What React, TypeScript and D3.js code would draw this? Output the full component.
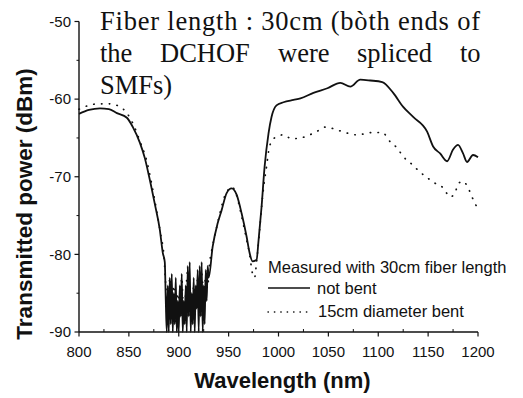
import * as d3 from "d3";

// ── Data ─────────────────────────────────────────────────
const notBentNm = [
  800, 810, 821, 830, 838, 848, 854, 861, 866, 870, 876, 881, 884,
  886, 887, 888, 889, 890, 891, 892, 893, 894, 895, 896, 897, 898, 899, 900,
  901, 902, 903, 904, 905, 906, 907, 908, 909, 910, 911, 912, 913, 914, 915,
  916, 917, 918, 919, 920, 921, 922, 923, 924, 925, 926, 927, 928, 929, 930,
  934, 939, 943, 948, 953, 958, 963, 968, 971, 974, 978, 980, 983, 986, 990,
  993, 998, 1005, 1015, 1022, 1035, 1049, 1062, 1072, 1082, 1092, 1104, 1115,
  1125, 1135, 1149, 1155, 1162, 1169, 1175, 1180, 1185, 1189, 1195, 1200,
];
const notBentDbm = [
  -61.9, -61.4, -61.2, -61.3, -61.8, -62.4, -63.6, -65.6, -67.6, -69.8, -73.5, -76.8, -79.8,
  -81, -86, -90, -84, -90, -83, -89, -82.5, -90, -85, -89, -83, -90, -86, -90,
  -84, -88, -82.5, -90, -86, -89, -84, -90, -81.5, -88, -81, -90, -85, -89, -83,
  -90, -84, -87, -82, -90, -81.5, -88, -81, -90, -84, -89, -82, -86, -81.5, -83,
  -79, -76, -74.3, -72.1, -71.5, -72.3, -74.7, -77.7, -79.8, -80.9, -80.7, -78.2, -73.9, -68.8, -64.4,
  -62.3, -60.8, -60.4, -60.1, -59.9, -59.2, -58.6, -57.9, -58.4, -57.5, -57.6, -57.8, -59.2,
  -61.0, -62.3, -64.2, -66.1, -67.0, -68.0, -66.5, -65.9, -67.0, -68.1, -67.2, -67.5,
];

const bentNm = [
  800, 810, 820, 830, 840, 848, 855, 861, 868, 873, 878, 882, 885,
  887, 889, 891, 893, 895, 897, 899, 901, 903, 905, 907, 909, 911, 913, 915,
  917, 919, 921, 923, 925, 927, 929, 931,
  933, 938, 942, 946, 950, 953, 957, 962, 967, 971, 974, 976, 978, 981, 984,
  988, 991, 996, 1005, 1013, 1022, 1038, 1047, 1062, 1078, 1095, 1104, 1112,
  1119, 1125, 1132, 1142, 1152, 1159, 1165, 1172, 1177, 1180, 1185, 1190, 1194, 1200,
];
const bentDbm = [
  -61.3, -60.8, -60.6, -60.6, -60.9, -61.8, -63.4, -65.4, -68.0, -71.0, -74.5, -77.5, -80,
  -84, -88, -83, -86, -84, -89, -85, -87, -83, -88, -85, -82, -86, -88, -84,
  -87, -83, -86, -82.5, -85, -83, -84, -81,
  -79.5, -76.5, -74.3, -72.5, -71.6, -71.3, -72, -74.5, -77.5, -80, -82.5, -83, -81, -77, -72.6,
  -68.7, -66.1, -65.0, -64.6, -65.1, -65.0, -64.2, -63.6, -64.1, -64.6, -64.3, -64.3, -65.5,
  -66.3, -67.4, -68.2, -69.4, -70.4, -71.0, -71.4, -72.6, -72.1, -70.9, -70.6, -71.4, -72.6, -74.2,
];

const xTicks = [800, 850, 900, 950, 1000, 1050, 1100, 1150, 1200];
const yTicks = [-90, -80, -70, -60, -50];

const noteLine1 = "Fiber length : 30cm (bòth ends of";
const noteLine2 = ["the", "DCHOF", "were", "spliced", "to"];
const noteLine3 = "SMFs)";

// ── Layout ────────────────────────────────────────────────
const W = 523;
const H = 398;
const X0 = 79;
const X1 = 478;
const Y0 = 332;
const Y1 = 21.5;
const SANS = "'Liberation Sans', Arial, sans-serif";
const SERIF = "'Liberation Serif', 'Times New Roman', serif";
const INK = "#111";

const x = d3.scaleLinear().domain([800, 1200]).range([X0, X1]);
const y = d3.scaleLinear().domain([-90, -50]).range([Y0, Y1]);

const line = d3
  .line<[number, number]>()
  .x(d => x(d[0]))
  .y(d => y(d[1]))
  .curve(d3.curveMonotoneX);

const notBent = notBentNm.map((n, i) => [n, notBentDbm[i]] as [number, number]);
const bent = bentNm.map((n, i) => [n, bentDbm[i]] as [number, number]);

const minorX = d3.range(825, 1200, 50);
const minorY = d3.range(-85, -50, 10);

// word x positions on the justified second line
const line2X = [100, 160, 278, 357, 460];

export default function App() {
  return (
    <svg
      width={W}
      height={H}
      viewBox={`0 0 ${W} ${H}`}
      style={{ position: "absolute", left: 0, top: 0, background: "#fff" }}
    >
      {/* ── Curves ── */}
      <path d={line(bent) ?? ""} fill="none" stroke={INK}
        strokeWidth={1.7} strokeDasharray="0.4 7.4" strokeLinecap="round" />
      <path d={line(notBent) ?? ""} fill="none" stroke={INK}
        strokeWidth={1.8} strokeLinejoin="round" />

      {/* ── Axes ── */}
      <line x1={X0} x2={X0} y1={Y1} y2={Y0} stroke={INK} strokeWidth={1.4} />
      <line x1={X0} x2={X1} y1={Y0} y2={Y0} stroke={INK} strokeWidth={1.6} />

      {xTicks.map(t => (
        <g key={t}>
          <line x1={x(t)} x2={x(t)} y1={Y0} y2={Y0 + 4.5} stroke={INK} strokeWidth={1.2} />
          <text x={x(t)} y={357} textAnchor="middle" fontSize={15}
            fontFamily={SANS} fill={INK}>{t}</text>
        </g>
      ))}
      {minorX.map(t => (
        <line key={t} x1={x(t)} x2={x(t)} y1={Y0} y2={Y0 - 3} stroke={INK} strokeWidth={1} />
      ))}

      {yTicks.map(t => (
        <g key={t}>
          <line x1={X0 - 4.5} x2={X0} y1={y(t)} y2={y(t)} stroke={INK} strokeWidth={1.2} />
          <text x={71} y={y(t) + 5.3} textAnchor="end" fontSize={15}
            fontFamily={SANS} fill={INK}>{t}</text>
        </g>
      ))}
      {minorY.map(t => (
        <line key={t} x1={X0 - 2.5} x2={X0} y1={y(t)} y2={y(t)} stroke={INK} strokeWidth={1} />
      ))}

      {/* ── Axis titles ── */}
      <text x={(X0 + X1) / 2 + 4} y={388} textAnchor="middle" fontSize={22}
        fontWeight={700} fontFamily={SANS} fill={INK}>Wavelength (nm)</text>
      <text transform="translate(32, 204) rotate(-90)" textAnchor="middle"
        fontSize={22.5} fontWeight={700} fontFamily={SANS} fill={INK}>
        Transmitted power (dBm)
      </text>

      {/* ── Note (justified serif text) ── */}
      <text x={100} y={30} fontSize={26.5} fontFamily={SERIF} fill={INK}
        textLength={380} lengthAdjust="spacing">{noteLine1}</text>
      {noteLine2.map((w, i) => (
        <text key={w} x={line2X[i]} y={62} fontSize={26.5} fontFamily={SERIF}
          fill={INK}>{w}</text>
      ))}
      <text x={100} y={94} fontSize={26.5} fontFamily={SERIF} fill={INK}>{noteLine3}</text>

      {/* ── Legend ── */}
      <text x={268} y={273} fontSize={16.5} fontFamily={SANS} fill={INK}>
        Measured with 30cm fiber length
      </text>
      <line x1={268} x2={310} y1={288} y2={288} stroke={INK} strokeWidth={1.6} />
      <text x={317} y={294} fontSize={16.5} fontFamily={SANS} fill={INK}>not bent</text>
      <line x1={268} x2={308} y1={312} y2={312} stroke={INK} strokeWidth={1.4}
        strokeDasharray="0.4 6" strokeLinecap="round" />
      <text x={318} y={317} fontSize={16.5} fontFamily={SANS} fill={INK}>15cm diameter bent</text>
    </svg>
  );
}
